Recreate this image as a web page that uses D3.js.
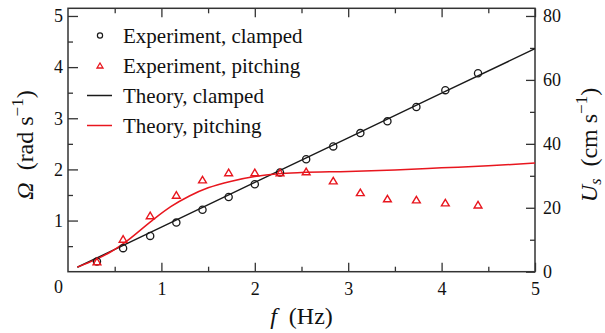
<!DOCTYPE html>
<html>
<head>
<meta charset="utf-8">
<script src="https://cdn.jsdelivr.net/npm/d3@7"></script>
<style>
  body { margin: 0; background: #fff; }
  svg text { font-family: "Liberation Serif", "Times New Roman", serif !important; fill: #111; }
</style>
</head>
<body>
<svg width="605" height="333"></svg>
<script>
// experiment
const freqExp = [0.31, 0.59, 0.88, 1.16, 1.44, 1.72, 2.00, 2.27, 2.55, 2.84, 3.13, 3.42, 3.73, 4.04, 4.39];
const omegaClamped = [0.20, 0.46, 0.70, 0.96, 1.21, 1.46, 1.71, 1.94, 2.20, 2.45, 2.71, 2.94, 3.22, 3.55, 3.88];
const omegaPitching = [0.20, 0.64, 1.10, 1.50, 1.80, 1.94, 1.94, 1.94, 1.96, 1.78, 1.55, 1.43, 1.41, 1.35, 1.31];

// theory curves
const freqTheoryClamped = [0.1, 1, 2, 3, 4, 5];
const omegaTheoryClamped = [0.087, 0.87, 1.745, 2.615, 3.49, 4.36];
const freqTheoryPitching = [0.1, 0.3, 0.45, 0.6, 0.9, 1.1, 1.3, 1.5, 1.75, 2.0, 2.25, 2.5, 3.0, 3.5, 4.0, 4.5, 5.0];
const omegaTheoryPitching = [0.09, 0.24, 0.38, 0.56, 1.0, 1.27, 1.48, 1.64, 1.77, 1.86, 1.915, 1.94, 1.96, 1.99, 2.03, 2.07, 2.125];

const xTicks = [1, 2, 3, 4, 5];
const yTicks = [1, 2, 3, 4, 5];
const yRightTicks = [0, 20, 40, 60, 80];
const legendLabels = ["Experiment, clamped", "Experiment, pitching", "Theory, clamped", "Theory, pitching"];

const RED = "#e8161e", BLACK = "#1a1a1a", FRAME = "#333";
const SERIF = "'Liberation Serif', 'Times New Roman', serif";

const svg = d3.select("svg");
const plotL = 68, plotR = 535, plotT = 8.3, plotB = 271.7;

const x = d3.scaleLinear().domain([0, 5]).range([plotL, plotR]);
const y = d3.scaleLinear().domain([0, 5.15]).range([plotB, plotT]);
const yR = d3.scaleLinear().domain([0, 82.4]).range([plotB, plotT]);

function styleAxis(g, size) {
  g.attr("font-family", null).attr("font-size", null);
  g.select(".domain").remove();
  g.selectAll(".tick line").attr("stroke", FRAME).attr("stroke-width", 1.3);
  g.selectAll(".tick text").style("font-size", size + "px").style("font-family", SERIF).attr("fill", "#111");
}

// minor ticks
svg.append("g").attr("transform", `translate(0,${plotB})`)
  .call(d3.axisBottom(x).tickValues(d3.range(0.5, 5, 1)).tickSize(-5).tickFormat(""))
  .call(g => styleAxis(g, 0));
svg.append("g").attr("transform", `translate(0,${plotT})`)
  .call(d3.axisTop(x).tickValues(d3.range(0.5, 5, 1)).tickSize(-5).tickFormat(""))
  .call(g => styleAxis(g, 0));
svg.append("g").attr("transform", `translate(${plotL},0)`)
  .call(d3.axisLeft(y).tickValues(d3.range(0.5, 5, 1)).tickSize(-5).tickFormat(""))
  .call(g => styleAxis(g, 0));
svg.append("g").attr("transform", `translate(${plotR},0)`)
  .call(d3.axisRight(yR).tickValues([10, 30, 50, 70]).tickSize(-5).tickFormat(""))
  .call(g => styleAxis(g, 0));

// major ticks
svg.append("g").attr("transform", `translate(0,${plotB})`)
  .call(d3.axisBottom(x).tickValues(xTicks).tickSize(-9).tickPadding(11).tickFormat(d3.format("d")))
  .call(g => styleAxis(g, 18));
svg.append("g").attr("transform", `translate(0,${plotT})`)
  .call(d3.axisTop(x).tickValues(xTicks).tickSize(-9).tickFormat(""))
  .call(g => styleAxis(g, 0));
svg.append("g").attr("transform", `translate(${plotL},0)`)
  .call(d3.axisLeft(y).tickValues(yTicks).tickSize(-10).tickPadding(5).tickFormat(d3.format("d")))
  .call(g => styleAxis(g, 18));
svg.append("g").attr("transform", `translate(${plotR},0)`)
  .call(d3.axisRight(yR).tickValues(yRightTicks).tickSize(-9).tickPadding(8).tickFormat(d3.format("d")))
  .call(g => styleAxis(g, 18));

// corner zero
svg.append("text").attr("x", plotL - 5).attr("y", 293)
  .attr("text-anchor", "end").style("font-size", "18px").text("0");

// frame
svg.append("rect")
  .attr("x", plotL).attr("y", plotT)
  .attr("width", plotR - plotL).attr("height", plotB - plotT)
  .attr("fill", "none").attr("stroke", FRAME).attr("stroke-width", 1.5);

// theory lines
const line = d3.line().x(d => x(d[0])).y(d => y(d[1]));
const lineCurve = d3.line().x(d => x(d[0])).y(d => y(d[1])).curve(d3.curveMonotoneX);

svg.append("path")
  .datum(d3.zip(freqTheoryClamped, omegaTheoryClamped))
  .attr("d", line)
  .attr("fill", "none").attr("stroke", BLACK).attr("stroke-width", 1.4);

svg.append("path")
  .datum(d3.zip(freqTheoryPitching, omegaTheoryPitching))
  .attr("d", lineCurve)
  .attr("fill", "none").attr("stroke", RED).attr("stroke-width", 1.5);

// experiment markers
function tri(cx, cy, h) {
  const w = h * 0.6;
  return `M${cx},${cy - h / 2}L${cx + w},${cy + h / 2}L${cx - w},${cy + h / 2}Z`;
}

svg.append("g").selectAll("circle")
  .data(d3.zip(freqExp, omegaClamped))
  .enter().append("circle")
  .attr("cx", d => x(d[0])).attr("cy", d => y(d[1])).attr("r", 3.6)
  .attr("fill", "none").attr("stroke", BLACK).attr("stroke-width", 1.3);

svg.append("g").selectAll("path")
  .data(d3.zip(freqExp, omegaPitching))
  .enter().append("path")
  .attr("d", d => tri(x(d[0]), y(d[1]), 6.5))
  .attr("fill", "none").attr("stroke", RED).attr("stroke-width", 1.4);

// legend
const legend = svg.append("g");
legendLabels.forEach((label, i) => {
  const cy = 35.5 + i * 30;
  if (i === 0) {
    legend.append("circle").attr("cx", 100).attr("cy", cy).attr("r", 2.6)
      .attr("fill", "none").attr("stroke", BLACK).attr("stroke-width", 1.2);
  } else if (i === 1) {
    legend.append("path").attr("d", tri(100, cy, 5))
      .attr("fill", "none").attr("stroke", RED).attr("stroke-width", 1.3);
  } else {
    legend.append("line").attr("x1", 87).attr("x2", 112).attr("y1", cy).attr("y2", cy)
      .attr("stroke", i === 2 ? BLACK : RED).attr("stroke-width", 1.5);
  }
  legend.append("text").attr("x", 123).attr("y", cy + 7)
    .style("font-size", "21px").text(label);
});

// axis titles
const xt = svg.append("text").attr("x", (plotL + plotR) / 2).attr("y", 324)
  .attr("text-anchor", "middle").style("font-size", "24px");
xt.append("tspan").attr("font-style", "italic").text("f");
xt.append("tspan").text("\u2002(Hz)");

const yl = svg.append("text")
  .attr("transform", "translate(33,145) rotate(-90)")
  .attr("text-anchor", "middle").style("font-size", "24px");
yl.append("tspan").attr("font-style", "italic").text("\u03A9");
yl.append("tspan").text("\u2002(rad s");
yl.append("tspan").style("font-size", "17px").attr("dy", -10).text("\u22121");
yl.append("tspan").attr("dy", 10).text(")");

const yr = svg.append("text")
  .attr("transform", "translate(597,145) rotate(-90)")
  .attr("text-anchor", "middle").style("font-size", "24px");
yr.append("tspan").attr("font-style", "italic").text("U");
yr.append("tspan").attr("font-style", "italic").style("font-size", "16px").attr("dy", 4).text("s");
yr.append("tspan").attr("dy", -4).text("\u2002(cm s");
yr.append("tspan").style("font-size", "17px").attr("dy", -10).text("\u22121");
yr.append("tspan").attr("dy", 10).text(")");
</script>
</body>
</html>
